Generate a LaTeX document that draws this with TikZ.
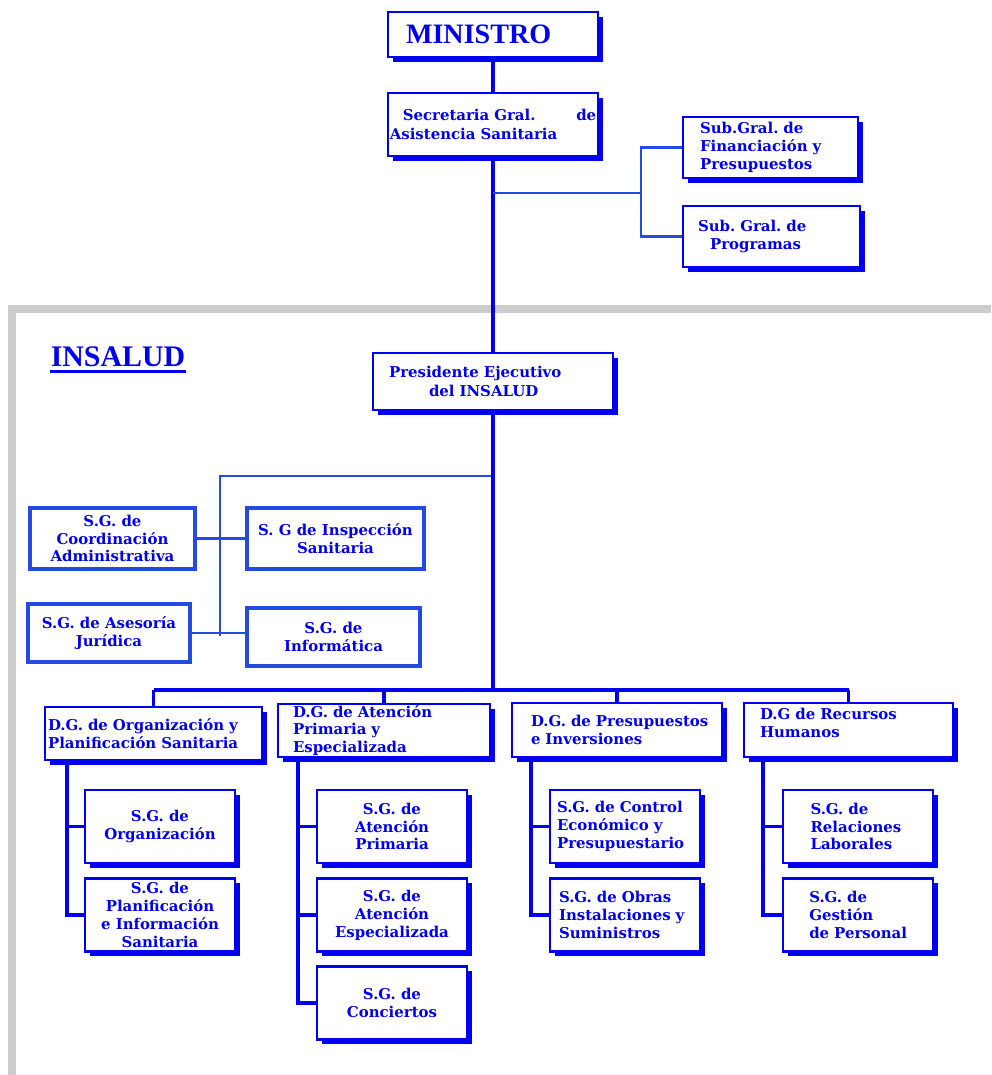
\documentclass[tikz,border=0pt]{standalone}
\usepackage{fontspec}
\setmainfont{DejaVu Serif}
\newfontfamily\headfont{Liberation Serif}
\usetikzlibrary{positioning,shadows}
\definecolor{boxblue}{RGB}{0,0,240}
\definecolor{linkblue}{RGB}{35,75,225}
\definecolor{framegray}{RGB}{204,204,204}
\frenchspacing
\hyphenpenalty=10000
\tikzset{
  boxbase/.style={draw=boxblue, fill=white, line width=1.2pt, text=boxblue,
    font=\fontsize{8.5}{10.2}\selectfont\bfseries, align=center, inner ysep=2pt},
  box/.style={boxbase,
    drop shadow={shadow xshift=2.6pt, shadow yshift=-2.6pt, fill=boxblue, opacity=1}},
  staffbox/.style={boxbase, draw=linkblue, line width=1.8pt,
    drop shadow={shadow xshift=1.2pt, shadow yshift=-1.2pt, fill=linkblue, opacity=1}},
  sgbox/.style={box, minimum width=3cm, minimum height=1.46cm},
  conn/.style={draw=boxblue, line width=1.8pt},
  thinconn/.style={draw=linkblue, line width=1.2pt}
}
\begin{document}
\begin{tikzpicture}[x=0.02cm, y=-0.02cm]
  \useasboundingbox (0,0) rectangle (991,1075);
  %INSALUD frame
  \draw[framegray, line width=4.5pt] (12,1075) -- (12,309) -- (991,309);
  %ministerio
  \node[box, text width=3.48cm, inner xsep=0.36cm, minimum height=0.9cm, align=left,
        font=\headfont\fontsize{16}{18}\selectfont\bfseries] (mini) at (493,34.5) {MINISTRO};
  \node[box, text width=4.13cm, inner xsep=1pt, minimum height=1.26cm, align=left,
        font=\fontsize{8.5}{11}\selectfont\bfseries] (secr) at (493,124.5)
        {\hspace*{0.26cm}Secretaria Gral.\hfill de\hspace*{0.2cm}\\Asistencia~Sanitaria};
  \node[box, text width=2.82cm, inner xsep=0.34cm, minimum height=1.22cm, align=left] (fin) at (770.5,147.5)
        {Sub.Gral.~de\\Financiación~y\\Presupuestos};
  \node[box, text width=2.94cm, inner xsep=0.3cm, minimum height=1.22cm, align=left] (prog) at (771.5,236.5)
        {Sub.~Gral.~de\\\hspace*{0.24cm}Programas};
  %INSALUD
  \node[text=boxblue, font=\headfont\fontsize{17}{19}\selectfont\bfseries, inner sep=0pt] (insalud) at (118,357) {INSALUD};
  \node[box, text width=4.16cm, inner xsep=0.32cm, minimum height=1.14cm, align=left,
        font=\fontsize{8.5}{11}\selectfont\bfseries] (pres) at (493,381.5)
        {Presidente~Ejecutivo\\\hspace*{0.8cm}del~INSALUD};
  %staff units
  \node[staffbox, minimum width=3.3cm, minimum height=1.22cm] (coord) at (112.5,538.5) {S.G. de\\Coordinación\\Administrativa};
  \node[staffbox, minimum width=3.54cm, minimum height=1.22cm] (insp) at (335.5,538.5) {S. G de Inspección\\Sanitaria};
  \node[staffbox, minimum width=3.24cm, minimum height=1.16cm] (ases) at (109,633) {S.G. de Asesoría\\Jurídica};
  \node[staffbox, minimum width=3.46cm, minimum height=1.16cm] (info) at (333.5,637) {S.G. de\\Informática};
  %direcciones generales
  \node[box, text width=4.22cm, inner xsep=0.06cm, minimum height=1.06cm, align=left] (dgorg) at (153.5,733.5)
        {D.G.~de~Organización~y\\Planificación~Sanitaria};
  \node[box, text width=3.64cm, inner xsep=0.3cm, inner ysep=0pt, minimum height=1.06cm, align=left] (dgat) at (384,730.5)
        {D.G.~de~Atención\\Primaria~y\\Especializada};
  \node[box, text width=3.44cm, inner xsep=0.38cm, minimum height=1.08cm, align=left] (dgpre) at (617,730)
        {D.G.~de~Presupuestos\\e~Inversiones};
  \node[box, text width=3.54cm, inner xsep=0.32cm, minimum height=1.08cm, align=left] (dgrh) at (848.5,730)
        {D.G~de~Recursos\\Humanos\\[-2pt]\mbox{}};
  %subdirecciones
  \node[sgbox] (sgorg) at (160,826.5) {S.G. de\\Organización};
  \node[sgbox, inner ysep=1pt] (sgplan) at (160,915) {S.G. de\\Planificación\\e Información\\Sanitaria};
  \node[sgbox] (sgap) at (392,826.5) {S.G. de\\Atención\\Primaria};
  \node[sgbox] (sgae) at (392,915) {S.G. de\\Atención\\Especializada};
  \node[sgbox] (sgcon) at (392,1003) {S.G. de\\Conciertos};
  \node[sgbox, text width=2.72cm, inner xsep=0.14cm, align=left] (sgctl) at (625,826.5) {S.G.~de~Control\\Económico~y\\Presupuestario};
  \node[sgbox, text width=2.64cm, inner xsep=0.18cm, align=left] (sgobr) at (625,915) {S.G.~de~Obras\\Instalaciones~y\\Suministros};
  \node[sgbox, text width=1.9cm, inner xsep=0.55cm, align=left] (sgrl) at (858,826.5) {S.G.~de\\Relaciones\\Laborales};
  \node[sgbox, text width=1.95cm, inner xsep=0.52cm, align=left] (sggp) at (858,915) {S.G.~de\\Gestión\\de~Personal};
  %underline of INSALUD
  \draw[boxblue, line width=1.6pt] ([yshift=-2.6pt]insalud.base west) -- ([yshift=-2.6pt]insalud.base east);
  %connectors top
  \coordinate (jsub) at (493,193);
  \coordinate (subrail) at (641,193);
  \draw[conn] (mini) -- (secr);
  \draw[conn] (secr.south) -- (pres.north);
  \draw[thinconn] (jsub) -- (subrail);
  \draw[thinconn] (fin.west) -| (subrail) |- (prog.west);
  %connectors staff
  \coordinate (jstaff) at (493,476);
  \coordinate (staffrail) at (220,476);
  \coordinate (staffend) at (220,636);
  \draw[thinconn] (jstaff) -- (staffrail) -- (staffend);
  \draw[thinconn] (coord.east) -- (insp.west);
  \draw[thinconn] (ases.east) -- (ases.east -| info.west);
  %bus of direcciones generales
  \coordinate (bus) at (493,690);
  \draw[conn] (pres.south) -- (bus);
  \draw[conn] (dgorg.north |- bus) -- (dgrh.north |- bus);
  \foreach \dg in {dgorg,dgat,dgpre,dgrh}
    \draw[conn] (\dg.north |- bus) -- (\dg.north);
  %rails to subdirecciones
  \coordinate (orgtop) at (67,760);
  \coordinate (attop) at (298,757);
  \coordinate (pretop) at (531,757);
  \coordinate (rhtop) at (763,757);
  \draw[conn] (orgtop) |- (sgplan.west);
  \draw[conn] (orgtop |- sgorg.west) -- (sgorg.west);
  \draw[conn] (attop) |- (sgcon.west);
  \draw[conn] (attop |- sgap.west) -- (sgap.west);
  \draw[conn] (attop |- sgae.west) -- (sgae.west);
  \draw[conn] (pretop) |- (sgobr.west);
  \draw[conn] (pretop |- sgctl.west) -- (sgctl.west);
  \draw[conn] (rhtop) |- (sggp.west);
  \draw[conn] (rhtop |- sgrl.west) -- (sgrl.west);
\end{tikzpicture}
\end{document}
